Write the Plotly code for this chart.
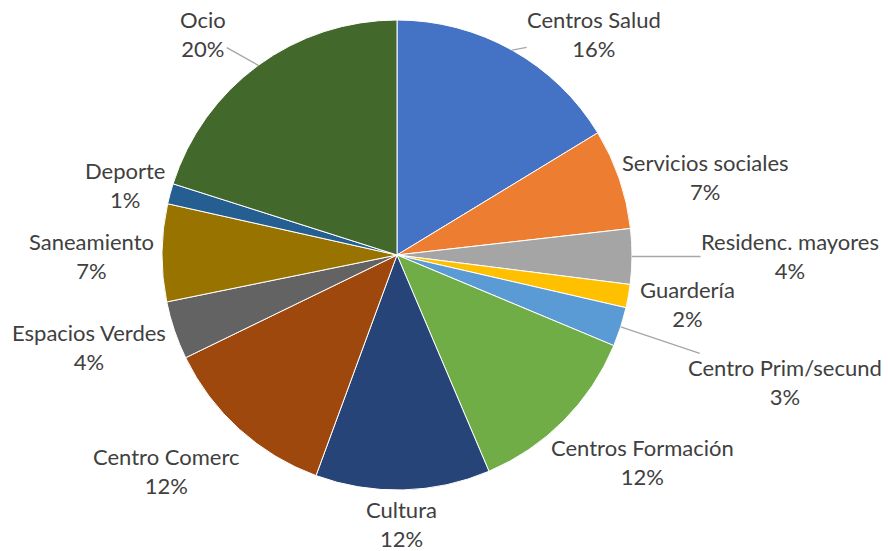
import numpy as np
import plotly.graph_objects as go

# ---- data ----
categories = ["Centros Salud", "Servicios sociales", "Residenc. mayores", "Guardería",
              "Centro Prim/secund", "Centros Formación", "Cultura", "Centro Comerc",
              "Espacios Verdes", "Saneamiento", "Deporte", "Ocio"]
values = [16.3, 6.9, 3.8, 1.6, 2.7, 12.3, 12.0, 12.2, 4.0, 6.7, 1.4, 20.1]

# ---- style ----
colors = ["#4472C4", "#ED7D31", "#A5A5A5", "#FFC000", "#5B9BD5", "#70AD47",
          "#264478", "#9E480E", "#636363", "#997300", "#255E91", "#43682B"]
# label offsets (px) from the slice's outer edge at its mid-angle
label_dx = [82, 86, 158, 59, 164, 79, -1, -73, -85, -71, -45, -55]
label_dy = [-16, -2, 0, 8, 55, 41, 34, 42, 17, 3, -9, -31]
show_leader = [True, False, True, False, True, False, False, False, False, False, False, True]

W, H = 888, 551
dom_x = [162 / W, 632 / W]
dom_y = [61 / H, 531 / H]
radius_px = min((dom_x[1] - dom_x[0]) * W, (dom_y[1] - dom_y[0]) * H) / 2
cx = (dom_x[0] + dom_x[1]) / 2
cy = (dom_y[0] + dom_y[1]) / 2

fig = go.Figure(go.Pie(
    labels=categories, values=values,
    marker=dict(colors=colors, line=dict(color="white", width=1)),
    sort=False, direction="clockwise", rotation=0, textinfo="none",
    domain=dict(x=dom_x, y=dom_y), showlegend=False,
))

vals = np.array(values, dtype=float)
total = vals.sum()
cum = np.cumsum(vals) - vals / 2
mid = cum / total * 2 * np.pi

annotations = []
for i, name in enumerate(categories):
    th = mid[i]
    x = cx + radius_px * np.sin(th) / W
    y = cy + radius_px * np.cos(th) / H
    pct = vals[i] / total * 100
    annotations.append(dict(
        x=x, y=y, xref="paper", yref="paper",
        text=f"{name}<br>{pct:.0f}%",
        showarrow=True, arrowhead=0, arrowwidth=1.3,
        arrowcolor="#A6A6A6" if show_leader[i] else "rgba(0,0,0,0)",
        ax=label_dx[i], ay=label_dy[i], borderpad=0,
        font=dict(family="Lato", size=22, color="#404040"),
        align="center",
    ))

fig.update_layout(
    width=W, height=H, margin=dict(l=0, r=0, t=0, b=0),
    paper_bgcolor="white", plot_bgcolor="white",
    annotations=annotations,
)
fig.write_html("out.html", config={"displayModeBar": False},
               post_script="document.body.style.margin='0';")
